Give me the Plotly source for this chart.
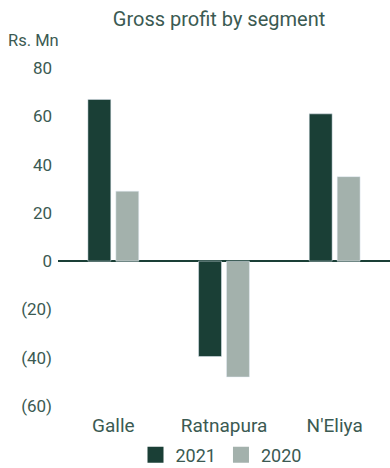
import plotly.graph_objects as go

categories = ["Galle", "Ratnapura", "N'Eliya"]
values_2021 = [67, -39.5, 61]
values_2020 = [29, -48, 35]
tick_vals = [80, 60, 40, 20, 0, -20, -40, -60]
tick_text = ["80", "60", "40", "20", "0", "(20)", "(40)", "(60)"]

C21 = "#1a3f36"
C20 = "#a3b1ac"
TXT = "#3b5a52"
FONT = "Roboto"

fig = go.Figure()
fig.add_trace(go.Bar(name="2021", x=categories, y=values_2021, marker_color=C21, showlegend=False))
fig.add_trace(go.Bar(name="2020", x=categories, y=values_2020, marker_color=C20, showlegend=False))
# legend entries with larger square swatches
fig.add_trace(go.Scatter(name="2021", x=[None], y=[None], mode="markers",
                         marker=dict(symbol="square", size=19, color=C21)))
fig.add_trace(go.Scatter(name="2020", x=[None], y=[None], mode="markers",
                         marker=dict(symbol="square", size=19, color=C20)))

fig.update_layout(
    width=390, height=468,
    margin=dict(l=58, r=0, t=68, b=62),
    paper_bgcolor="white", plot_bgcolor="white",
    barmode="group", bargap=0.495, bargroupgap=0.18,
    font=dict(family=FONT, color=TXT, size=17),
    title=dict(text="Gross profit by segment", x=219/390, xanchor="center",
               y=1 - 19/468, yanchor="middle", font=dict(size=20, color=TXT)),
    showlegend=True,
    legend=dict(orientation="h", x=221/390, xanchor="center", xref="container",
                y=1 - 455/468, yref="container", yanchor="middle",
                font=dict(size=18, color=TXT), itemsizing="trace",
                traceorder="normal", borderwidth=0,
                bgcolor="rgba(0,0,0,0)"),
    xaxis=dict(showgrid=False, showline=False, ticks="", tickfont=dict(size=19),
               ticklabelstandoff=6),
    yaxis=dict(range=[-60, 80], tickvals=tick_vals, ticktext=tick_text,
               showgrid=False, showline=False, ticks="", ticklabelstandoff=5,
               zeroline=True, zerolinecolor=C21, zerolinewidth=2,
               tickfont=dict(size=17)),
)
fig.add_annotation(text="Rs. Mn", xref="paper", yref="paper", x=-58/332 + 6/332, xanchor="left",
                   y=1 + 28/338, yanchor="middle", showarrow=False,
                   font=dict(size=16.5, color=TXT))
fig.write_html("out.html")
